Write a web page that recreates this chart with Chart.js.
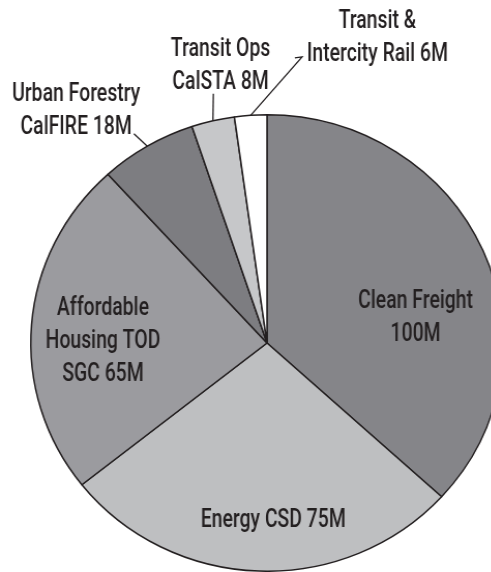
<!DOCTYPE html>
<html>
<head>
<meta charset="utf-8">
<script src="https://cdn.jsdelivr.net/npm/chart.js@4.4.0/dist/chart.umd.min.js"></script>
<style>
  html, body { margin: 0; padding: 0; background: #fff; overflow: hidden; }
  /* the printed pie is a touch wider than tall */
  #wrap { position: relative; width: 534px; height: 572px; transform: scaleX(1.035); transform-origin: 267px 0; }
</style>
</head>
<body>
<div id="wrap"><canvas id="pieChart"></canvas></div>
<script>
// data (millions)
const programs = ['Clean Freight', 'Energy CSD', 'Affordable Housing TOD SGC', 'Urban Forestry CalFIRE', 'Transit Ops CalSTA', 'Transit & Intercity Rail'];
const amounts = [100, 75, 65, 18, 8, 6];
const labelLines = [
  ['Clean Freight', '100M'],
  ['Energy CSD 75M'],
  ['Affordable', 'Housing TOD', 'SGC 65M'],
  ['Urban Forestry', 'CalFIRE 18M'],
  ['Transit Ops', 'CalSTA 8M'],
  ['Transit &', 'Intercity Rail 6M']
];
const sliceColors = ['#858589', '#bebfc1', '#9b9b9f', '#7d7d81', '#c6c7c9', '#ffffff'];

// label placement, offsets from pie centre in px at radius 229
const labelLayout = [
  { x: 144, y: -35, leader: null },
  { x: 6, y: 185, leader: null },
  { x: -159, y: -28, leader: null },
  { x: -185, y: -243, leader: [[-129, -210]] },
  { x: -45, y: -288, leader: [[-52, -250]] },
  { x: 107, y: -316, leader: [[34, -287], [27, -286]] }
];

const textColor = '#231f20';
const lineGap = 33;
const textSqueeze = 0.75; // condensed look

const pieLabels = {
  id: 'pieLabels',
  afterDraw(chart) {
    const ctx = chart.ctx;
    const arcs = chart.getDatasetMeta(0).data;
    ctx.save();
    ctx.fillStyle = textColor;
    ctx.strokeStyle = textColor;
    ctx.lineWidth = 1.3;
    ctx.font = '500 25px Roboto, "DejaVu Sans Condensed", sans-serif';
    ctx.textAlign = 'center';
    ctx.textBaseline = 'alphabetic';
    arcs.forEach((arc, i) => {
      const p = arc.getProps(['x', 'y', 'startAngle', 'endAngle', 'outerRadius'], true);
      const k = p.outerRadius / 229;
      const lay = labelLayout[i];
      const lx = p.x + lay.x * k;
      const ly = p.y + lay.y * k;
      labelLines[i].forEach((line, j) => {
        ctx.save();
        ctx.translate(lx, ly + j * lineGap);
        ctx.scale(textSqueeze, 1);
        ctx.fillText(line, 0, 0);
        ctx.restore();
      });
      if (lay.leader) {
        // leader from the text to the middle of the slice edge
        const mid = (p.startAngle + p.endAngle) / 2;
        ctx.beginPath();
        const pts = lay.leader.slice().reverse();
        pts.forEach((pt, j) => {
          const x = p.x + pt[0] * k, y = p.y + pt[1] * k;
          if (j === 0) ctx.moveTo(x, y); else ctx.lineTo(x, y);
        });
        ctx.lineTo(p.x + Math.cos(mid) * p.outerRadius, p.y + Math.sin(mid) * p.outerRadius);
        ctx.stroke();
      }
    });
    ctx.restore();
  }
};

const ctx = document.getElementById('pieChart').getContext('2d');
const chart = new Chart(ctx, {
  type: 'pie',
  data: {
    labels: programs,
    datasets: [{
      data: amounts,
      backgroundColor: sliceColors,
      borderColor: textColor,
      borderWidth: 1.5
    }]
  },
  options: {
    responsive: true,
    maintainAspectRatio: false,
    animation: false,
    layout: { padding: { top: 114, left: 0, right: 0, bottom: 0 } },
    plugins: {
      legend: { display: false },
      tooltip: { enabled: false }
    }
  },
  plugins: [pieLabels]
});
</script>
</body>
</html>
